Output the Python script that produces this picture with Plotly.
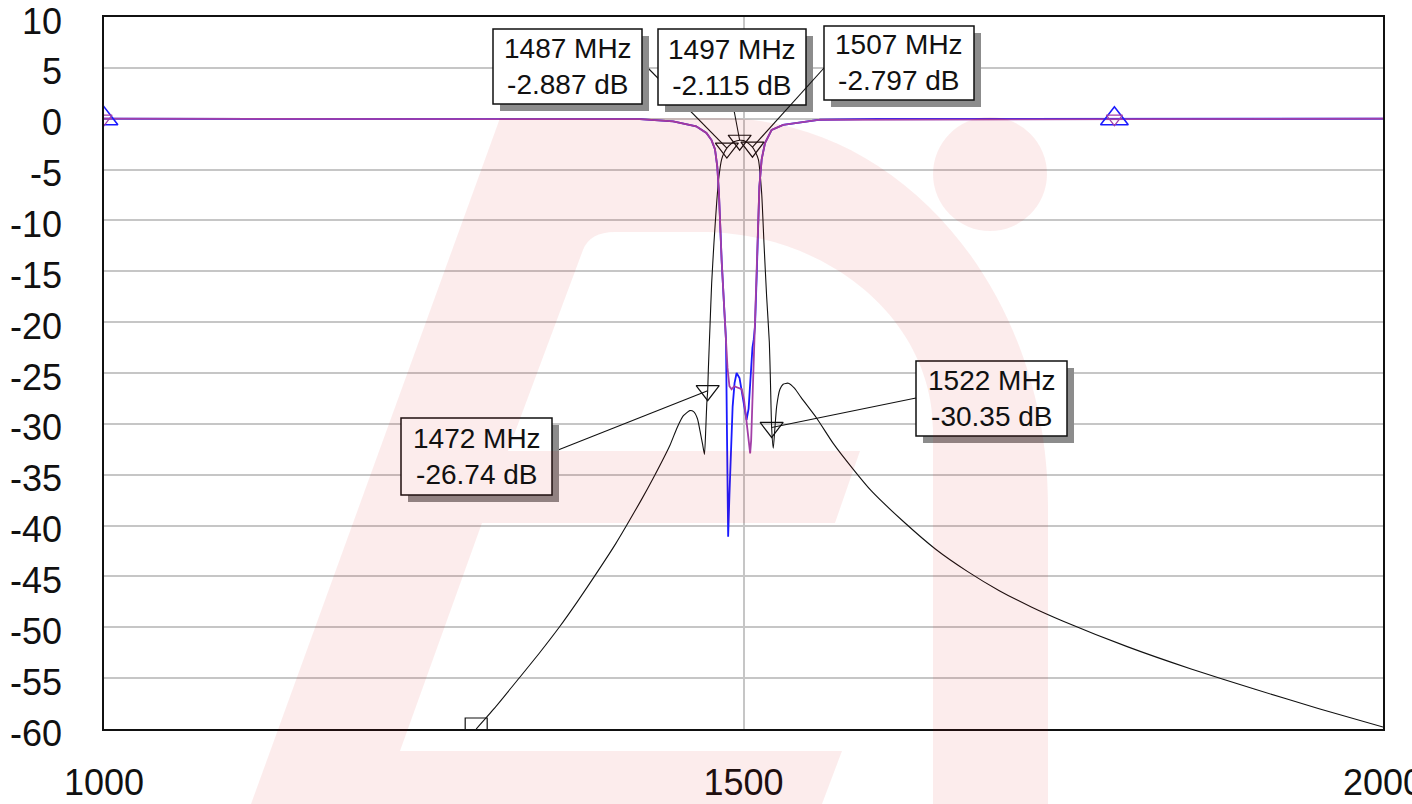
import plotly.graph_objects as go

# ---------------- data ----------------
s21_f = [1291, 1305, 1320, 1340, 1356.5, 1370, 1385, 1400, 1409, 1420, 1430, 1442.5, 1448, 1453,
         1458, 1461, 1464, 1466, 1468, 1469.5, 1470.5, 1471.3, 1472, 1472.5, 1473.8, 1475.1, 1476.9,
         1479, 1480.8, 1482.9, 1485, 1487, 1490, 1493, 1497, 1500, 1503, 1505, 1507, 1509, 1511.6,
         1514.2, 1516, 1518.1, 1520.2, 1521, 1522, 1523.3, 1524.5, 1525.9, 1528.5, 1531, 1535, 1540,
         1545, 1557, 1570, 1586, 1600, 1625, 1650, 1675, 1700, 1725, 1750, 1800, 1850, 1900, 1950, 2000]
s21_db = [-60.0, -58.0, -55.7, -52.6, -49.9, -47.5, -44.7, -41.8, -39.9, -37.5, -35.2, -32.1, -30.4, -29.2,
          -28.7, -28.8, -29.5, -30.7, -32.0, -33.0, -30.5, -28.0, -26.74, -24.7, -20.4, -16.2, -12.2,
          -8.3, -5.7, -4.0, -3.3, -2.887, -2.5, -2.25, -2.115, -2.15, -2.35, -2.55, -2.797, -3.2, -4.0,
          -7.3, -12.2, -17.5, -22.0, -25.5, -30.35, -32.4, -30.5, -28.3, -26.6, -26.1, -26.0, -26.5,
          -27.4, -29.4, -31.9, -34.5, -36.6, -39.6, -42.3, -44.5, -46.4, -48.0, -49.4, -51.9, -54.1,
          -56.1, -58.0, -59.8]

s11_f = [1000, 1380, 1419, 1445, 1463, 1471, 1475, 1477.7, 1479.5, 1480.8, 1481.6, 1482.9, 1485, 1486.3,
         1487, 1487.5, 1488, 1489, 1490, 1491.5, 1493, 1494.6, 1496.9, 1499.8, 1502.4, 1504, 1505.5,
         1507, 1508, 1509, 1510.3, 1511.6, 1512.4, 1514.2, 1516.8, 1522, 1531, 1560, 1605, 2000]
s11_db = [0, -0.02, -0.05, -0.26, -0.75, -1.4, -2.1, -3.0, -4.7, -7.3, -9.9, -13.9, -18.8, -21.7,
          -30.0, -37.0, -41.1, -37.0, -33.0, -28.3, -26.0, -25.0, -25.5, -27.6, -29.6, -28.5, -25.0,
          -22.5, -21.7, -20.4, -15.5, -9.9, -6.7, -4.0, -2.4, -1.1, -0.6, -0.1, -0.02, 0]

s22_f = [1000, 1419, 1445, 1463, 1471, 1475, 1477.7, 1479.5, 1480.8, 1481.6, 1482.9, 1485, 1486.3,
         1487.5, 1489, 1490.7, 1492.7, 1495, 1498.6, 1500.4, 1502.5, 1504.2, 1505.2, 1506, 1506.8,
         1507.7, 1508.3, 1509, 1510.3, 1511.6, 1512.4, 1514.2, 1516.8, 1522, 1531, 1560, 2000]
s22_db = [0, -0.05, -0.26, -0.75, -1.4, -2.1, -3.0, -4.7, -7.3, -9.9, -13.9, -18.8, -21.7,
          -24.5, -26.3, -26.6, -26.3, -26.4, -26.6, -27.6, -29.9, -32.2, -32.9, -31.6, -28.3,
          -24.7, -21.7, -20.4, -15.5, -9.9, -6.7, -4.0, -2.4, -1.1, -0.6, -0.1, 0]

marker_f = [1487, 1497, 1507, 1472, 1522]
marker_db = [-2.887, -2.115, -2.797, -26.74, -30.35]
s11_marker_f = [1000, 1790]
s11_marker_db = [0, 0]

x_ticks = [1000, 1500, 2000]
y_ticks = list(range(10, -65, -5))

# ---------------- geometry helpers (layout only) ----------------
W, H = 1412, 804
L, R, T, B = 104, 1383, 17, 729
X0, X1, Y0, Y1 = 1000, 2000, -60, 10


def px2paper(px, py):
    return (px - L) / (R - L), (B - py) / (B - T)


def px2data(px, py):
    return X0 + (px - L) / (R - L) * (X1 - X0), Y0 + (B - py) / (B - T) * (Y1 - Y0)


def P(px, py):
    x, y = px2paper(px, py)
    return f"{x:.5f},{y:.5f}"


fig = go.Figure()

fig.add_trace(go.Scatter(x=s21_f, y=s21_db, mode="lines",
                         line=dict(color="#111111", width=1.1, shape="spline", smoothing=0.5)))
fig.add_trace(go.Scatter(x=s11_f, y=s11_db, mode="lines", line=dict(color="#1a1aff", width=1.8)))
fig.add_trace(go.Scatter(x=s22_f, y=s22_db, mode="lines", line=dict(color="#a23fa8", width=1.8)))

# marker symbols
fig.add_trace(go.Scatter(x=marker_f, y=marker_db, mode="markers",
                         marker=dict(symbol="triangle-down-open", size=20, color="#111111",
                                     line=dict(width=1.2))))
fig.add_trace(go.Scatter(x=s21_f[:1], y=[Y0], mode="markers",
                         marker=dict(symbol="square-open", size=22, color="#111111", line=dict(width=1.2))))
fig.add_trace(go.Scatter(x=s11_marker_f, y=s11_marker_db, mode="markers",
                         marker=dict(symbol="triangle-up-open", size=24, color="#1a1aff", line=dict(width=1.6))))
fig.add_trace(go.Scatter(x=s11_marker_f, y=s11_marker_db, mode="markers",
                         marker=dict(symbol="triangle-down-open", size=14, color="#a23fa8", line=dict(width=1.2))))

shapes = []
annotations = []

# marker readout boxes: (left, top, right, bottom) in px and leader anchor in px
boxes = [(493, 29, 642, 104), (658, 29, 806, 105), (824, 26, 974, 100),
         (401, 418, 552, 495), (916, 361, 1067, 436)]
anchors = [(644, 64), (733, 105), (824, 68), (553, 452), (916, 398)]

for (f, db), (bl, bt, br, bb), (ax, ay) in zip(zip(marker_f, marker_db), boxes, anchors):
    axd, ayd = px2data(ax, ay)
    shapes.append(dict(type="line", xref="x", yref="y", x0=f, y0=db, x1=axd, y1=ayd,
                       line=dict(color="#111111", width=1.1), layer="above"))
    sx0, sy1 = px2paper(bl + 7, bt + 7)
    sx1, sy0 = px2paper(br + 7, bb + 7)
    shapes.append(dict(type="rect", xref="paper", yref="paper", x0=sx0, x1=sx1, y0=sy0, y1=sy1,
                       fillcolor="#8c8c8c", line=dict(width=0), layer="above"))
    bx0, by1 = px2paper(bl, bt)
    bx1, by0 = px2paper(br, bb)
    shapes.append(dict(type="rect", xref="paper", yref="paper", x0=bx0, x1=bx1, y0=by0, y1=by1,
                       fillcolor="white", line=dict(color="#111111", width=1.5), layer="above"))
    cx, cy = px2paper((bl + br) / 2, (bt + bb) / 2)
    annotations.append(dict(xref="paper", yref="paper", x=cx, y=cy, showarrow=False,
                            text=f"{f} MHz<br>{format(db, '.4g')} dB",
                            font=dict(family="Liberation Sans, Arial", size=28, color="#111111"),
                            xanchor="center", yanchor="middle", align="center"))

# translucent logo watermark over the chart
pink = "rgba(210,0,0,0.075)"
glyph = ("M" + P(251, 804) + " L" + P(500, 118) + " L" + P(720, 118) +
         " C" + P(901, 118) + " " + P(1048, 291) + " " + P(1048, 505) +
         " L" + P(1048, 804) + " L" + P(933, 804) + " L" + P(933, 430) +
         " C" + P(933, 321) + " " + P(829, 232) + " " + P(700, 232) +
         " L" + P(615, 232) + " Q" + P(590, 232) + " " + P(583, 250) +
         " L" + P(508, 451) + " L" + P(860, 451) + " L" + P(835, 523) + " L" + P(482, 523) +
         " L" + P(400, 751) + " L" + P(842, 751) + " L" + P(822, 804) + " Z")
shapes.append(dict(type="path", xref="paper", yref="paper", path=glyph, fillcolor=pink,
                   line=dict(width=0), layer="above"))
c0x, c0y = px2paper(933, 231)
c1x, c1y = px2paper(1047, 117)
shapes.append(dict(type="circle", xref="paper", yref="paper", x0=c0x, x1=c1x, y0=c0y, y1=c1y,
                   fillcolor=pink, line=dict(width=0), layer="above"))

tick_font = dict(family="Liberation Sans, Arial", size=36, color="#111111")

fig.update_layout(
    width=W, height=H,
    margin=dict(l=L, r=W - R, t=T, b=H - B, autoexpand=False),
    paper_bgcolor="white", plot_bgcolor="white",
    showlegend=False,
    shapes=shapes, annotations=annotations,
    xaxis=dict(range=[X0, X1], tickvals=x_ticks, ticktext=[str(v) for v in x_ticks],
               showgrid=True, gridcolor="#c6c6c6", gridwidth=1.5, zeroline=False,
               showline=True, linecolor="#111111", linewidth=1.5, mirror=True,
               ticks="", tickfont=tick_font, ticklabelstandoff=21, automargin=False,
               ticklabeloverflow="allow"),
    yaxis=dict(range=[Y0, Y1], tickvals=y_ticks, ticktext=[str(v) for v in y_ticks],
               showgrid=True, gridcolor="#c6c6c6", gridwidth=1.5, zeroline=False,
               showline=True, linecolor="#111111", linewidth=1.5, mirror=True,
               ticks="", tickfont=tick_font, ticklabelstandoff=33, automargin=False,
               ticklabeloverflow="allow", ticklabelshift=4),
)

fig.write_html("out.html", config={"displayModeBar": False},
               post_script="document.body.style.margin='0';document.body.style.overflow='hidden';")
